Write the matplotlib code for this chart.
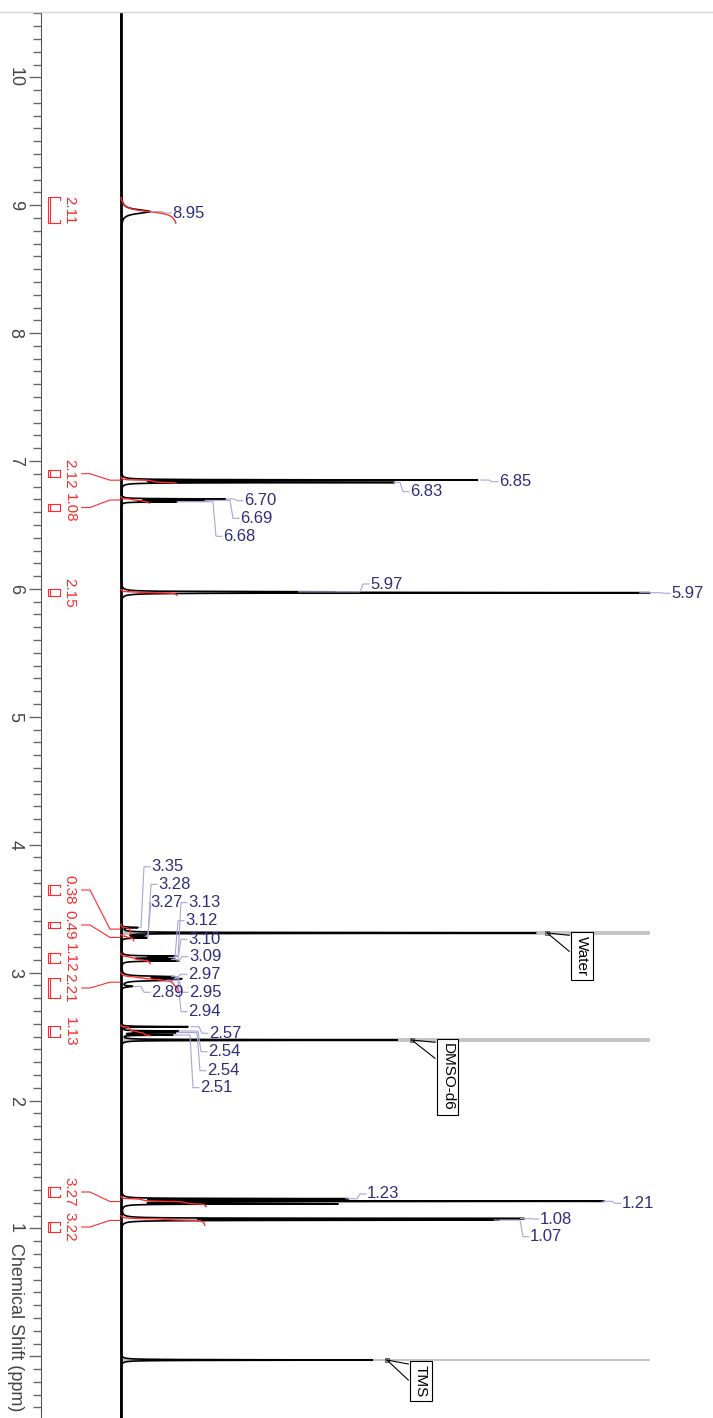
import numpy as np
import matplotlib.pyplot as plt
from matplotlib.lines import Line2D
from matplotlib.ticker import MultipleLocator, FuncFormatter

plt.rcParams['font.family'] = ['Liberation Sans', 'DejaVu Sans']

# compound peaks: shift (ppm), relative height, half width (ppm)
peak_ppm = [8.950, 6.851, 6.832, 6.703, 6.692, 6.681, 5.977, 5.970,
            3.352, 3.285, 3.272, 3.128, 3.118, 3.102, 3.092,
            2.968, 2.952, 2.940, 2.892, 2.577, 2.543, 2.531, 2.512,
            1.232, 1.212, 1.192, 1.077, 1.065]
peak_height = [0.055, 0.675, 0.510, 0.193, 0.153, 0.100, 0.330, 0.975,
               0.030, 0.040, 0.045, 0.095, 0.085, 0.090, 0.100,
               0.090, 0.095, 0.080, 0.020, 0.127, 0.105, 0.100, 0.095,
               0.420, 0.905, 0.400, 0.750, 0.700]
peak_hw = [0.018, 0.002, 0.002, 0.002, 0.002, 0.002, 0.002, 0.002,
           0.003, 0.003, 0.003, 0.003, 0.003, 0.003, 0.003,
           0.005, 0.005, 0.005, 0.005, 0.002, 0.002, 0.002, 0.002,
           0.002, 0.002, 0.002, 0.002, 0.002]

# solvent / reference signals
solv_name = ['Water', 'DMSO-d6', 'TMS']
solv_ppm = [3.310, 2.473, -0.029]
solv_height = [0.783, 0.527, 0.480]
solv_full = [1.0, 1.0, 1.0]

# integrals
int_hi = [9.06, 6.875, 6.720, 5.995, 3.38, 3.30, 3.15, 3.00, 2.590, 1.25, 1.100]
int_lo = [8.86, 6.825, 6.670, 5.950, 3.30, 3.25, 3.07, 2.85, 2.505, 1.17, 1.025]
int_val = [2.11, 2.12, 1.08, 2.15, 0.38, 0.49, 1.12, 2.21, 1.13, 3.27, 3.22]

# peak labels
lab_text = ['8.95', '6.85', '6.83', '6.70', '6.69', '6.68', '5.97', '5.97',
            '3.35', '3.28', '3.27', '3.13', '3.12', '3.10', '3.09',
            '2.97', '2.95', '2.94', '2.89', '2.57', '2.54', '2.54', '2.51',
            '1.23', '1.21', '1.08', '1.07']
lab_peak = [0, 1, 2, 3, 4, 5, 6, 7,
            8, 9, 10, 11, 12, 13, 14,
            15, 16, 17, 18, 19, 20, 21, 22,
            23, 24, 26, 27]

# layout of the labels (pixel positions in the picture)
lab_pos = [(172, 213), (499, 481.7), (410, 491.7), (244, 500.7), (240, 518.3),
           (223, 536.3), (370, 584), (671, 593.3),
           (151, 866.7), (158, 884.3), (150, 902.7), (188, 902.7), (185, 920.7),
           (188, 939.3), (189, 956.7),
           (188, 974.3), (189, 992.3), (188, 1011.7), (151, 992.3),
           (209, 1033.3), (208, 1051.7), (207, 1070.7), (200, 1087.7),
           (367, 1194), (622, 1203.3), (540, 1219), (530, 1236.7)]
int_lab_y = [210, 473.7, 507.5, 592.5, 890, 925, 958, 988, 1031.5, 1192, 1227]
int_leader = [False, True, True, False, True, True, False, True, False, True, True]
solv_box = [(581.7, 932.3), (447.5, 1039.3), (420.8, 1361.0)]


def X(px):
    return (px - 121) / 529.0


def Y(py):
    return 10 - (py - 77.3) / 127.9


PX = 1 / 529.0
PY = 1 / 127.9
K_INT = 26 * PX

fig = plt.figure(figsize=(7.13, 14.18), dpi=100)
ax = fig.add_axes([41 / 713, 0, 672 / 713, 1406 / 1418])
ax.set_xlim(X(41), X(713))
ax.set_ylim(Y(1418), Y(12))

ppm = np.arange(-0.5, 10.55, 0.0004)
spec = np.zeros_like(ppm)
for p, h, w in zip(peak_ppm, peak_height, peak_hw):
    spec += h / (1 + ((ppm - p) / w) ** 2)
full = spec.copy()
for p, h in zip(solv_ppm, solv_height):
    full += h / (1 + ((ppm - p) / 0.002) ** 2)

# solvent parts in grey
for i, (p, g) in enumerate(zip(solv_ppm, solv_full)):
    ax.plot([0, g], [p, p], color='#c4c4c4', lw=1.5 if i == 2 else 2.8,
            solid_capstyle='butt', zorder=1)

ax.axvline(0, color='black', lw=2.0, zorder=2)
ax.plot(full, ppm, color='black', lw=1.2, zorder=3)

# integrals
red = '#ff2a2a'
for hi, lo, v, ly, lead in zip(int_hi, int_lo, int_val, int_lab_y, int_leader):
    m = (ppm <= hi) & (ppm >= lo)
    seg = spec[m][::-1]
    c = np.cumsum(seg)
    c = c / c[-1] * v * K_INT
    ax.plot(c, ppm[m][::-1], color=red, lw=1.0, zorder=4)
    yc = Y(ly)
    half = max((hi - lo) / 2, 3.3 * PY)
    y0, y1 = yc + half, yc - half
    ax.plot([X(60), X(47.5), X(47.5), X(60)], [y0, y0, y1, y1], color=red, lw=0.8)
    ax.plot([X(49.5), X(49.5)], [y0, y1], color=red, lw=0.8)
    ax.plot([X(60), X(60)], [y0, y0 - 2.5 * PY], color=red, lw=0.8)
    ax.plot([X(60), X(60)], [y1, y1 + 2.5 * PY], color=red, lw=0.8)
    ax.text(X(69.5), yc, f'{v:.2f}', rotation=-90, ha='center', va='center',
            fontsize=11, color=red)
    if lead:
        ym = (hi + lo) / 2
        ax.plot([X(81.7), X(90), X(110), X(120)], [yc, yc, ym, ym], color=red, lw=0.8)

# peak labels
navy = '#2e2e7c'
lead_c = '#a6a6d8'
for t, i, (tx, ty) in zip(lab_text, lab_peak, lab_pos):
    p = peak_ppm[i]
    x0 = peak_height[i] + 3 * PX
    xb = max(x0, X(tx - 10))
    yd = Y(ty)
    ax.plot([x0, xb, xb + 3 * PX, X(tx - 1)], [p, p, yd, yd], color=lead_c, lw=0.8, zorder=5)
    ax.text(X(tx), yd, t, ha='left', va='center', fontsize=12, color=navy, zorder=6)

# solvent call-outs
for name, p, h, (bx, top) in zip(solv_name, solv_ppm, solv_height, solv_box):
    xm = h + 12 * PX
    ax.plot([xm], [p], marker='s', ms=3.5, mfc='#aaaaaa', mec='#555555', mew=0.6, zorder=6)
    ax.plot([xm, X(bx - 12.5)], [p, Y(top + 3)], color='black', lw=0.8, zorder=6)
    ax.plot([xm, X(bx - 12.5)], [p, Y(top + 19)], color='black', lw=0.8, zorder=6)
    ax.text(X(bx), Y(top + 4), name, rotation=-90, ha='center', va='top', fontsize=11,
            color='black', zorder=7,
            bbox=dict(boxstyle='square,pad=0.25', fc='white', ec='black', lw=0.8))

# axis
for s in ['top', 'right', 'bottom']:
    ax.spines[s].set_visible(False)
ax.spines['left'].set_color('#555555')
ax.set_xticks([])
ax.yaxis.set_major_locator(MultipleLocator(1))
ax.yaxis.set_minor_locator(MultipleLocator(0.1))
ax.yaxis.set_major_formatter(FuncFormatter(lambda v, _: '' if abs(v) < 0.5 else f'{v:.0f}'))
ax.tick_params(axis='y', which='major', length=8.5, width=1, color='#666666',
               labelsize=13, labelcolor='#444444', labelrotation=-90, pad=4)
ax.tick_params(axis='y', which='minor', length=5.5, width=1, color='#666666')
for lab in ax.get_yticklabels():
    lab.set_va('center')

fig.text(15 / 713, 1 - 1243 / 1418, 'Chemical Shift (ppm)', rotation=-90,
         ha='center', va='top', fontsize=13, color='#444444')
fig.add_artist(Line2D([0, 1], [1 - 11.5 / 1418] * 2, color='#d6d6d6', lw=1))

fig.savefig('out.png', dpi=100)
